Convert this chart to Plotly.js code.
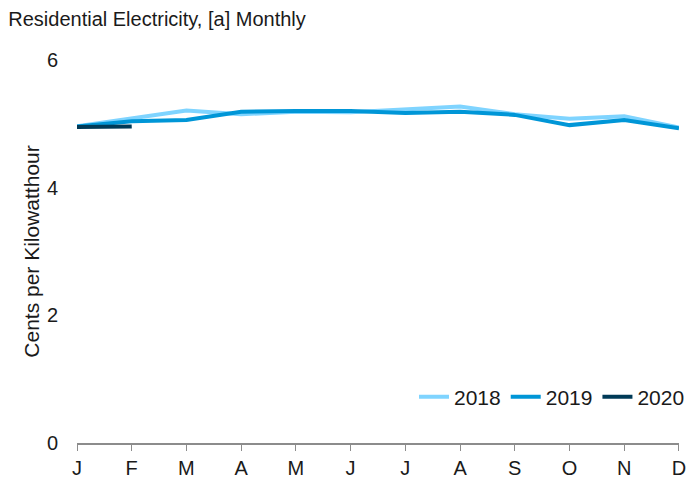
<!DOCTYPE html>
<html>
<head>
<meta charset="utf-8">
<script src="https://cdn.plot.ly/plotly-3.0.1.min.js"></script>
<style>html,body{margin:0;padding:0;background:#fff;}#chart{width:690px;height:485px;}</style>
</head>
<body>
<div id="chart"></div>
<script>
const months = ["J","F","M","A","M2","J2","J3","A2","S","O","N","D"];
const monthLabels = ["J","F","M","A","M","J","J","A","S","O","N","D"];
const values2018 = [4.96, 5.09, 5.21, 5.15, 5.19, 5.18, 5.22, 5.27, 5.15, 5.08, 5.12, 4.94];
const values2019 = [4.96, 5.04, 5.06, 5.19, 5.20, 5.20, 5.17, 5.19, 5.14, 4.98, 5.06, 4.93];
const values2020 = [4.95, 4.96];
const seriesNames = ["2018","2019","2020"];
const seriesColors = ["#7FD4FF","#0096D7","#003A57"];

const xIdx = months.map((m,i)=>i);
const data = [
  {x: xIdx, y: values2018, name: seriesNames[0]},
  {x: xIdx.slice(0, values2019.length), y: values2019, name: seriesNames[1]},
  {x: xIdx.slice(0, values2020.length), y: values2020, name: seriesNames[2]}
].map((t,i)=>Object.assign(t,{type:"scatter",mode:"lines",line:{color:seriesColors[i],width:4}}));

const layout = {
  width: 690, height: 485,
  margin: {l: 77, r: 0, t: 60, b: 42},
  paper_bgcolor: "#fff", plot_bgcolor: "#fff",
  font: {family: "Liberation Sans, Arial, sans-serif", size: 20, color: "#1a1a1a"},
  title: {text: "Residential Electricity, [a] Monthly", x: 0.012, xanchor: "left", y: 0.975, yanchor: "top", font: {size: 20, color: "#1a1a1a"}},
  showlegend: true,
  legend: {orientation: "h", x: 1.0, xanchor: "right", y: 0.12, yanchor: "middle", bgcolor: "rgba(0,0,0,0)", font: {size: 21}, traceorder: "normal"},
  xaxis: {
    domain: [0, 0.982],
    range: [0, 11], tickvals: xIdx, ticktext: monthLabels,
    showgrid: false, zeroline: false, showline: true, linecolor: "#8c8c8c", linewidth: 2,
    ticks: "outside", ticklen: 6, tickcolor: "#8c8c8c", tickwidth: 1, ticklabelstandoff: 0,
    automargin: false
  },
  yaxis: {
    range: [0, 6], dtick: 2, tick0: 0, showgrid: false, zeroline: false, showline: false,
    ticks: "", ticklabelstandoff: 18,
    title: {text: "Cents per Kilowatthour", standoff: 1, font: {size: 21}}
  }
};
Plotly.newPlot("chart", data, layout, {displayModeBar: false, staticPlot: true});
</script>
</body>
</html>
